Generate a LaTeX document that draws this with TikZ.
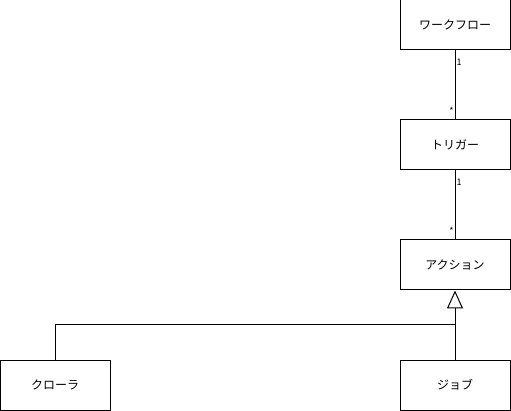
\documentclass[tikz,border=0pt]{standalone}
\usepackage{fontspec}
\setmainfont{Noto Sans CJK JP}
\usetikzlibrary{positioning,arrows.meta,calc}

\begin{document}
\begin{tikzpicture}[x=1pt,y=-1pt, font=\fontsize{12}{14}\selectfont, >=Latex, line width=1pt]
  \tikzset{cls/.style={draw,minimum width=110pt,minimum height=50pt,inner sep=0pt,line width=1pt},
           mult/.style={font=\fontsize{9}{10}\selectfont,inner sep=1pt}}
  \useasboundingbox (0,0) rectangle (511,411);
  \def\xC{55} \def\xR{455}
  \node[cls] (workflow) at (\xR,25)  {ワークフロー};
  \node[cls] (trigger)  at (\xR,145) {トリガー};
  \node[cls] (action)   at (\xR,265) {アクション};
  \node[cls] (crawler)  at (\xC,385) {クローラ};
  \node[cls] (job)      at (\xR,385) {ジョブ};
  \coordinate (join) at (\xR,325);
  % associations
  \draw (workflow) -- (trigger)
    node[mult,pos=0.17,right] {1}
    node[mult,pos=0.88,left] {*};
  \draw (trigger) -- (action)
    node[mult,pos=0.17,right] {1}
    node[mult,pos=0.88,left] {*};
  % inheritance
  \draw[-{Triangle[open,width=16pt,length=18pt]}] (job) -- (action);
  \draw (crawler.north) |- (join);
\end{tikzpicture}
\end{document}
